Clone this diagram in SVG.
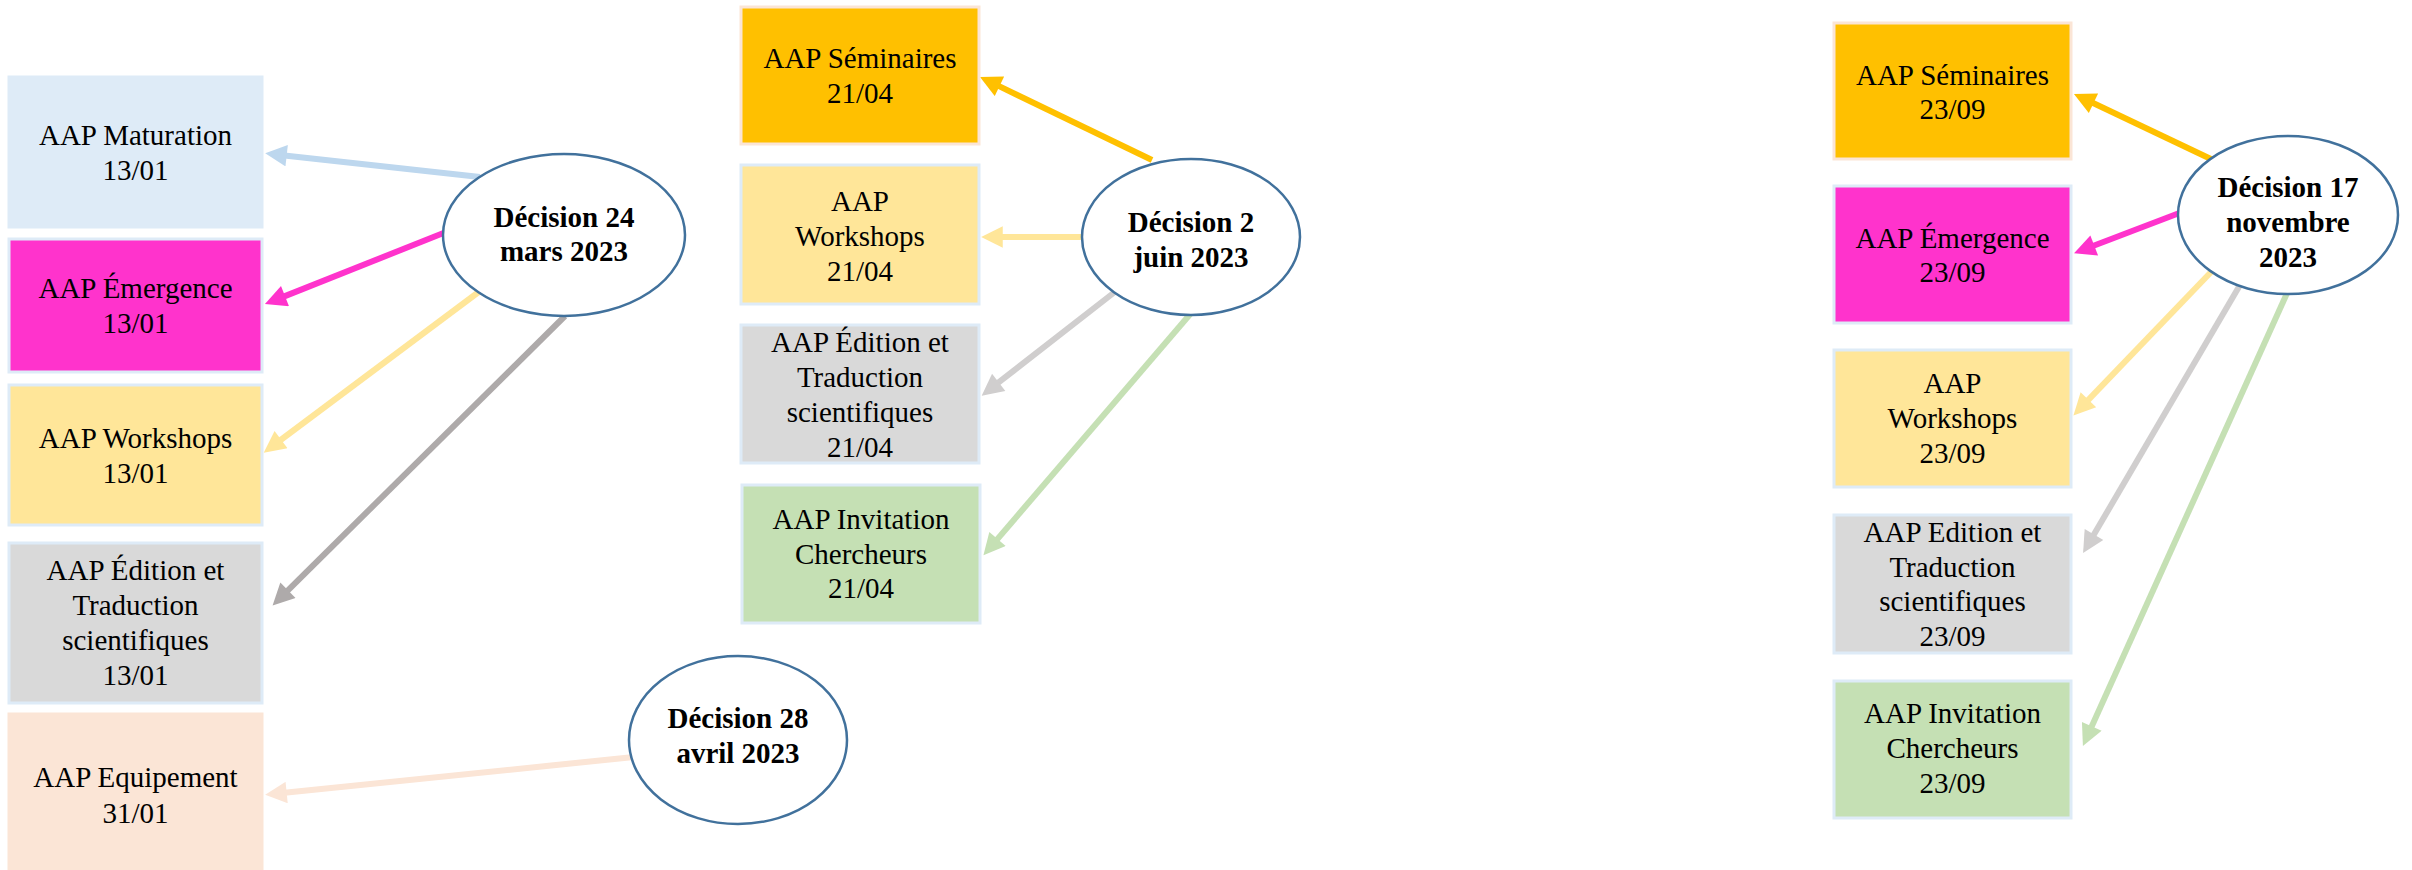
<svg xmlns="http://www.w3.org/2000/svg" width="2412" height="870" viewBox="0 0 2412 870">
<style>
.t{font-family:"Liberation Serif","Times New Roman",serif;font-size:29px;fill:#000;text-anchor:middle}
.b{font-weight:bold}
.box{stroke:#DEEBF7;stroke-width:3}
.dec{fill:#fff;stroke:#41719C;stroke-width:2.5}
.c{fill:none;stroke-width:6}
</style>
<defs>
<marker id="mBlue" viewBox="0 0 10 10" refX="1" refY="5" markerWidth="4" markerHeight="3.6" orient="auto" markerUnits="strokeWidth"><path d="M0,0L10,5L0,10z" fill="#BDD7EE"/></marker>
<marker id="mPink" viewBox="0 0 10 10" refX="1" refY="5" markerWidth="4" markerHeight="3.6" orient="auto" markerUnits="strokeWidth"><path d="M0,0L10,5L0,10z" fill="#FF33CC"/></marker>
<marker id="mYel" viewBox="0 0 10 10" refX="1" refY="5" markerWidth="4" markerHeight="3.6" orient="auto" markerUnits="strokeWidth"><path d="M0,0L10,5L0,10z" fill="#FFE699"/></marker>
<marker id="mGold" viewBox="0 0 10 10" refX="1" refY="5" markerWidth="4" markerHeight="3.6" orient="auto" markerUnits="strokeWidth"><path d="M0,0L10,5L0,10z" fill="#FFC000"/></marker>
<marker id="mDGray" viewBox="0 0 10 10" refX="1" refY="5" markerWidth="4" markerHeight="3.6" orient="auto" markerUnits="strokeWidth"><path d="M0,0L10,5L0,10z" fill="#AEAAAA"/></marker>
<marker id="mGray" viewBox="0 0 10 10" refX="1" refY="5" markerWidth="4" markerHeight="3.6" orient="auto" markerUnits="strokeWidth"><path d="M0,0L10,5L0,10z" fill="#D0CECE"/></marker>
<marker id="mGreen" viewBox="0 0 10 10" refX="1" refY="5" markerWidth="4" markerHeight="3.6" orient="auto" markerUnits="strokeWidth"><path d="M0,0L10,5L0,10z" fill="#C5E0B4"/></marker>
<marker id="mPeach" viewBox="0 0 10 10" refX="1" refY="5" markerWidth="4" markerHeight="3.6" orient="auto" markerUnits="strokeWidth"><path d="M0,0L10,5L0,10z" fill="#FBE5D6"/></marker>
</defs>
<rect width="2412" height="870" fill="#fff"/>

<g id="connectors">
<path class="c" d="M480,177 L284.5,155.4" stroke="#BDD7EE" marker-end="url(#mBlue)"/>
<path class="c" d="M446,232 L283,296.9" stroke="#FF33CC" marker-end="url(#mPink)"/>
<path class="c" d="M480,291 L279.3,441" stroke="#FFE699" marker-end="url(#mYel)"/>
<path class="c" d="M565,316 L286.4,591.8" stroke="#AEAAAA" marker-end="url(#mDGray)"/>
<path class="c" d="M634,757 L284.5,792.8" stroke="#FBE5D6" marker-end="url(#mPeach)"/>
<path class="c" d="M1152,160 L997.5,85.4" stroke="#FFC000" marker-end="url(#mGold)"/>
<path class="c" d="M1085,237 L1000.6,237" stroke="#FFE699" marker-end="url(#mYel)"/>
<path class="c" d="M1116,291 L997,383.7" stroke="#D0CECE" marker-end="url(#mGray)"/>
<path class="c" d="M1192,312 L996.1,540.6" stroke="#C5E0B4" marker-end="url(#mGreen)"/>
<path class="c" d="M2213,160 L2091.5,102.3" stroke="#FFC000" marker-end="url(#mGold)"/>
<path class="c" d="M2182,212 L2092.2,246.3" stroke="#FF33CC" marker-end="url(#mPink)"/>
<path class="c" d="M2213,270 L2086.9,401.4" stroke="#FFE699" marker-end="url(#mYel)"/>
<path class="c" d="M2240,285 L2092.9,536.3" stroke="#D0CECE" marker-end="url(#mGray)"/>
<path class="c" d="M2288,291 L2090.9,728.3" stroke="#C5E0B4" marker-end="url(#mGreen)"/>
</g>

<g id="maturation-1301">
<rect class="box" x="9" y="77" width="253" height="150" fill="#DEEBF7"/>
<text class="t" x="135.5" y="145">AAP Maturation</text>
<text class="t" x="135.5" y="180">13/01</text>
</g>
<g id="emergence-1301">
<rect class="box" x="9" y="239" width="253" height="133" fill="#FF33CC"/>
<text class="t" x="135.5" y="298">AAP Émergence</text>
<text class="t" x="135.5" y="333">13/01</text>
</g>
<g id="workshops-1301">
<rect class="box" x="9" y="385" width="253" height="140" fill="#FFE699"/>
<text class="t" x="135.5" y="448">AAP Workshops</text>
<text class="t" x="135.5" y="483">13/01</text>
</g>
<g id="edition-1301">
<rect class="box" x="9" y="543" width="253" height="160" fill="#D9D9D9"/>
<text class="t" x="135.5" y="580">AAP Édition et</text>
<text class="t" x="135.5" y="615">Traduction</text>
<text class="t" x="135.5" y="650">scientifiques</text>
<text class="t" x="135.5" y="685">13/01</text>
</g>
<g id="equipement-3101">
<rect x="9" y="714" width="253" height="160" fill="#FBE5D6" stroke="#FBE5D6" stroke-width="3"/>
<text class="t" x="135.5" y="787">AAP Equipement</text>
<text class="t" x="135.5" y="823">31/01</text>
</g>

<g id="seminaires-2104">
<rect x="741" y="7" width="238" height="137" fill="#FFC000" stroke="#FBE5D6" stroke-width="3"/>
<text class="t" x="860" y="68">AAP Séminaires</text>
<text class="t" x="860" y="103">21/04</text>
</g>
<g id="workshops-2104">
<rect class="box" x="741" y="165" width="238" height="139" fill="#FFE699"/>
<text class="t" x="860" y="211">AAP</text>
<text class="t" x="860" y="246">Workshops</text>
<text class="t" x="860" y="281">21/04</text>
</g>
<g id="edition-2104">
<rect class="box" x="741" y="325" width="238" height="138" fill="#D9D9D9"/>
<text class="t" x="860" y="352">AAP Édition et</text>
<text class="t" x="860" y="387">Traduction</text>
<text class="t" x="860" y="422">scientifiques</text>
<text class="t" x="860" y="457">21/04</text>
</g>
<g id="invitation-2104">
<rect class="box" x="742" y="485" width="238" height="138" fill="#C5E0B4"/>
<text class="t" x="861" y="529">AAP Invitation</text>
<text class="t" x="861" y="564">Chercheurs</text>
<text class="t" x="861" y="598">21/04</text>
</g>

<g id="seminaires-2309">
<rect x="1834" y="23" width="237" height="136" fill="#FFC000" stroke="#FBE5D6" stroke-width="3"/>
<text class="t" x="1952.5" y="85">AAP Séminaires</text>
<text class="t" x="1952.5" y="119">23/09</text>
</g>
<g id="emergence-2309">
<rect class="box" x="1834" y="186" width="237" height="137" fill="#FF33CC"/>
<text class="t" x="1952.5" y="248">AAP Émergence</text>
<text class="t" x="1952.5" y="282">23/09</text>
</g>
<g id="workshops-2309">
<rect class="box" x="1834" y="350" width="237" height="137" fill="#FFE699"/>
<text class="t" x="1952.5" y="393">AAP</text>
<text class="t" x="1952.5" y="428">Workshops</text>
<text class="t" x="1952.5" y="463">23/09</text>
</g>
<g id="edition-2309">
<rect class="box" x="1834" y="515" width="237" height="138" fill="#D9D9D9"/>
<text class="t" x="1952.5" y="542">AAP Edition et</text>
<text class="t" x="1952.5" y="577">Traduction</text>
<text class="t" x="1952.5" y="611">scientifiques</text>
<text class="t" x="1952.5" y="646">23/09</text>
</g>
<g id="invitation-2309">
<rect class="box" x="1834" y="681" width="237" height="137" fill="#C5E0B4"/>
<text class="t" x="1952.5" y="723">AAP Invitation</text>
<text class="t" x="1952.5" y="758">Chercheurs</text>
<text class="t" x="1952.5" y="793">23/09</text>
</g>

<g id="decision-24-mars">
<ellipse class="dec" cx="564" cy="235" rx="121" ry="81"/>
<text class="t b" x="564" y="227">Décision 24</text>
<text class="t b" x="564" y="261">mars 2023</text>
</g>
<g id="decision-2-juin">
<ellipse class="dec" cx="1191" cy="237" rx="109" ry="78"/>
<text class="t b" x="1191" y="232">Décision 2</text>
<text class="t b" x="1191" y="267">juin 2023</text>
</g>
<g id="decision-28-avril">
<ellipse class="dec" cx="738" cy="740" rx="109" ry="84"/>
<text class="t b" x="738" y="728">Décision 28</text>
<text class="t b" x="738" y="763">avril 2023</text>
</g>
<g id="decision-17-novembre">
<ellipse class="dec" cx="2288" cy="215" rx="110" ry="79"/>
<text class="t b" x="2288" y="197">Décision 17</text>
<text class="t b" x="2288" y="232">novembre</text>
<text class="t b" x="2288" y="267">2023</text>
</g>
</svg>
